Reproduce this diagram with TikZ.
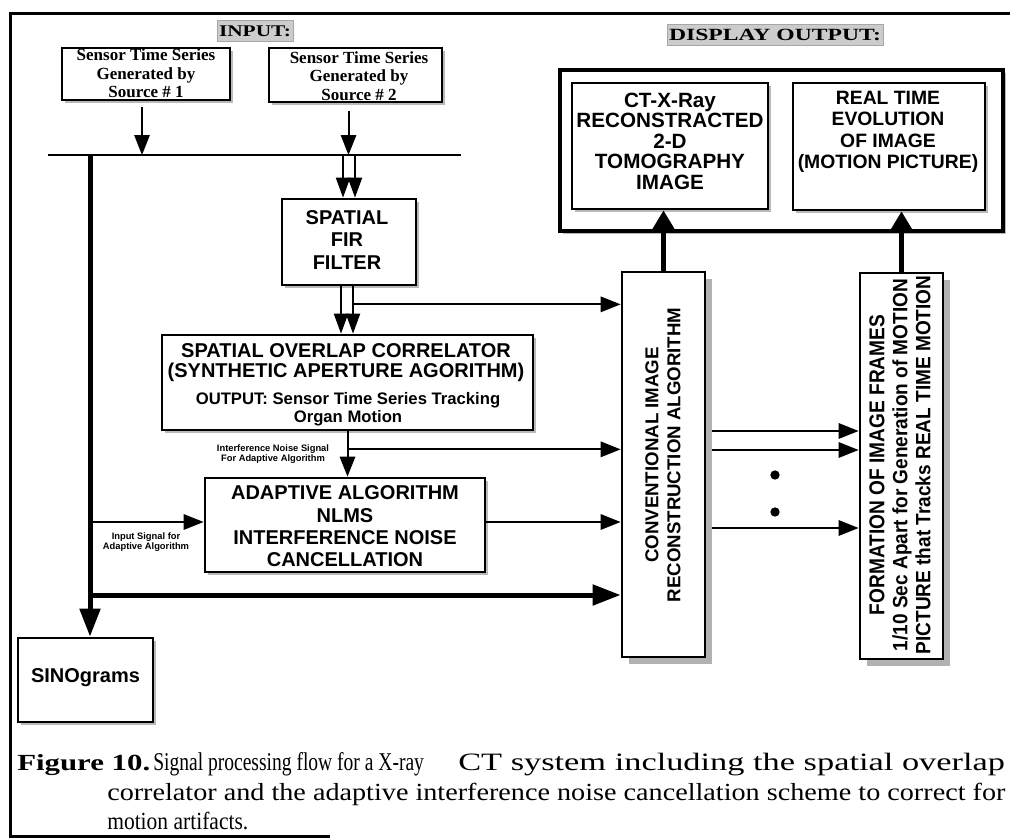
\documentclass[tikz,border=0pt]{standalone}
\usepackage{fontspec}
\setmainfont{Liberation Serif}
\newfontfamily\arialf{Liberation Sans}
\usetikzlibrary{arrows.meta,fit,shadows,calc}
\begin{document}
\begin{tikzpicture}[x=0.75pt,y=-0.75pt,
  box/.style={draw, line width=2pt, fill=white, inner sep=0pt},
  shad/.style={drop shadow={shadow xshift=2.5pt,shadow yshift=-2.5pt,fill=gray!55,opacity=1}},
  bigshad/.style={drop shadow={shadow xshift=5.5pt,shadow yshift=-5.5pt,fill=gray!60,opacity=1}},
  bt/.style={font=\arialf\bfseries\fontsize{15}{16.8}\selectfont, align=center, inner sep=0pt},
  st/.style={font=\bfseries\fontsize{12.75}{13.9}\selectfont, align=center, inner sep=0pt},
  tinytext/.style={font=\arialf\bfseries\fontsize{7}{6.3}\selectfont, align=center, inner sep=0pt},
  lbl/.style={fill=gray!40, draw=gray!70, line width=0.6pt, inner xsep=1.5pt, inner ysep=3.5pt},
  capt/.style={anchor=base west, inner sep=0pt},
  arr/.style={line width=1.5pt, -{Triangle[length=15pt,width=11.5pt]}},
  darr/.style={line width=1.5pt, -{Triangle[length=15pt,width=10.5pt]}},
  thickup/.style={line width=3.75pt, -{Triangle[length=16pt,width=18pt]}},
  thickarr/.style={line width=3.75pt, -{Triangle[length=21pt,width=15pt]}},
  dotnode/.style={circle, fill=black, inner sep=0pt, minimum size=7pt}
]
\useasboundingbox (0,0) rectangle (1010,839);

% outer frame
\draw[line width=2.25pt] (1010,13) -- (10,13) -- (10,836) -- (330,836);

% labels
\node[lbl] (inlbl) at (255,31) {\resizebox{54pt}{8pt}{\bfseries INPUT:}};
\node[lbl] (outlbl) at (775,35) {\resizebox{159pt}{8.5pt}{\bfseries DISPLAY OUTPUT:}};

% boxes
\node[box, shad, fit={(62,48)(230,100)}] (src1) {};
\node[box, shad, fit={(269,48)(442,102)}] (src2) {};
\node[box, shad, fit={(282,199)(416,285)}] (fir) {};
\node[box, shad, fit={(162,335)(533,430)}] (soc) {};
\node[box, shad, fit={(205,478)(485,572)}] (adapt) {};
\node[box, shad, fit={(18,638)(153,722)}] (sino) {};
\node[box, bigshad, fit={(622,272)(705,657)}] (cir) {};
\node[box, bigshad, fit={(860,273)(943,659)}] (form) {};
\node[box, line width=2.5pt, shad, fit={(560,70)(1003,231)}] (disp) {};
\node[box, shad, fit={(572,83)(768,209)}] (ct) {};
\node[box, shad, fit={(793,83)(985,210)}] (rt) {};

% texts
\node[st] (src1T) at (146,73.5) {Sensor Time Series\\Generated by\\Source \# 1};
\node[st] (src2T) at (359,76) {Sensor Time Series\\Generated by\\Source \# 2};
\node[bt] (firT) at (347,240) {SPATIAL\\FIR\\FILTER};
\node[bt, font=\arialf\bfseries\fontsize{15}{15}\selectfont] (socT1) at (346,363) {SPATIAL OVERLAP CORRELATOR\\(SYNTHETIC APERTURE AGORITHM)};
\node[bt, font=\arialf\bfseries\fontsize{12.5}{13.5}\selectfont] (socT2) at (348,409) {OUTPUT: Sensor Time Series Tracking\\Organ Motion};
\node[bt] (adT) at (345,526.5) {ADAPTIVE ALGORITHM\\NLMS\\INTERFERENCE NOISE\\CANCELLATION};
\node[bt] (sinoT) at (85.5,678) {SINOgrams};
\node[bt, rotate=90, font=\arialf\bfseries\fontsize{14}{16.5}\selectfont] (cirT) at (663,455) {CONVENTIONAL IMAGE\\RECONSTRUCTION ALGORITHM};
\node[bt, rotate=90, font=\arialf\bfseries\fontsize{15}{17.25}\selectfont] (formT) at (900,465)
  {\resizebox{225pt}{11.25pt}{FORMATION OF IMAGE FRAMES}\\
   \resizebox{279pt}{11.25pt}{1/10 Sec Apart for Generation of MOTION}\\
   \resizebox{284pt}{11.25pt}{PICTURE that Tracks REAL TIME MOTION}};
\node[bt, font=\arialf\bfseries\fontsize{15.5}{15.4}\selectfont] (ctT) at (670,141) {CT-X-Ray\\RECONSTRACTED\\2-D\\TOMOGRAPHY\\IMAGE};
\node[bt, font=\arialf\bfseries\fontsize{14.5}{16}\selectfont] (rtT) at (888,132) {REAL TIME\\EVOLUTION\\OF IMAGE\\(MOTION PICTURE)};
\node[tinytext] (noiseT) at (273,454) {Interference Noise Signal\\For Adaptive Algorithm};
\node[tinytext] (inputT) at (146,542) {Input Signal for\\Adaptive Algorithm};

% bus
\coordinate (busL) at (48,155);
\coordinate (busR) at (461,155);
\coordinate (tk) at (90,155);
\draw[line width=1.5pt] (busL) -- (busR);

% source arrows
\coordinate (s1a) at ($(src1.south)+(-4,6)$);
\coordinate (s2a) at ($(src2.south)+(-7,8)$);
\draw[arr] (s1a) -- (s1a |- busL);
\draw[arr] (s2a) -- (s2a |- busL);

% double arrows into and out of FIR
\coordinate (fa) at ($(fir.north)+(-6,0)$);
\coordinate (fb) at ($(fir.north)+(6,0)$);
\draw[darr] (fa |- busL) -- (fa);
\draw[darr] (fb |- busL) -- (fb);
\coordinate (ga) at ($(fir.south)+(-8,0)$);
\coordinate (gb) at ($(fir.south)+(4,0)$);
\draw[darr] (ga) -- (ga |- soc.north);
\draw[darr] (gb) -- (gb |- soc.north);
\coordinate (gbr) at ($(gb)+(0,18)$);
\draw[arr] (gbr) -- (gbr -| cir.west);

% SOC to adaptive
\draw[arr] (soc.south) -- (soc.south |- adapt.north);
\coordinate (nb) at ($(soc.south)+(0,18)$);
\draw[arr] (nb) -- (nb -| cir.west);
\coordinate (ae) at ($(adapt.east)+(0,-3)$);
\draw[arr] (ae) -- (ae -| cir.west);

% trunk
\draw[thickarr] (tk) -- (tk |- sino.north);
\coordinate (isig) at (90,522);
\draw[arr] (isig) -- (isig -| adapt.west);
\coordinate (tb) at (90,595);
\draw[thickarr] (tb) -- (tb -| cir.west);

% up arrows
\draw[thickup] (cir.north) -- (cir.north |- ct.south);
\draw[thickup] (form.north) -- (form.north |- rt.south);

% CIR to FORMATION
\coordinate (o1) at (712,431);
\coordinate (o2) at (712,450);
\coordinate (o3) at (712,528);
\draw[arr] (o1) -- (o1 -| form.west);
\draw[arr] (o2) -- (o2 -| form.west);
\draw[arr] (o3) -- (o3 -| form.west);
\node[dotnode] (d1) at (775,475) {};
\node[dotnode] (d2) at (775,512) {};

% caption
\node[capt] (capA) at (17,770) {\resizebox{99.75pt}{12pt}{\bfseries Figure 10.}};
\node[capt] (capB) at (153,770) {\resizebox{203pt}{13.5pt}{Signal processing flow for a X-ray}};
\node[capt] (capC) at (458,770) {\resizebox{410pt}{13pt}{CT system including the spatial overlap}};
\node[capt] (capD) at (107,800) {\resizebox{673.5pt}{13pt}{correlator and the adaptive interference noise cancellation scheme to correct for}};
\node[capt] (capE) at (107,829) {\resizebox{105.75pt}{13pt}{motion artifacts.}};
\end{tikzpicture}
\end{document}
